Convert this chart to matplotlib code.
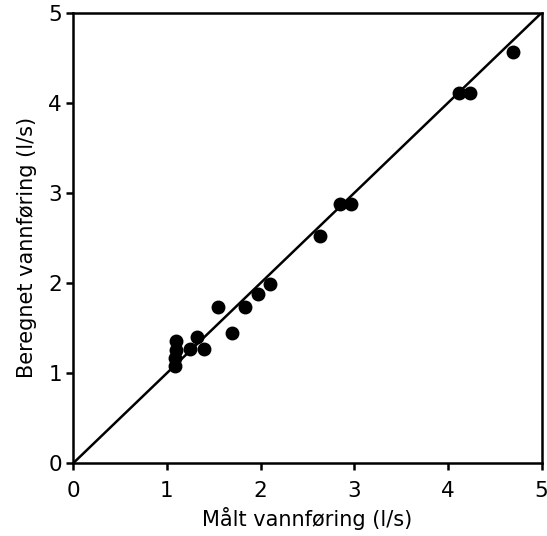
import numpy as np
import matplotlib.pyplot as plt

# maalt og beregnet vannforing (l/s)
maalt = [1.09, 1.09, 1.10, 1.10, 1.25, 1.32, 1.40, 1.55, 1.70, 1.83, 1.97, 2.10,
         2.63, 2.85, 2.97, 4.12, 4.24, 4.70]
beregnet = [1.08, 1.17, 1.26, 1.36, 1.27, 1.40, 1.27, 1.73, 1.45, 1.73, 1.88, 1.99,
            2.52, 2.88, 2.88, 4.11, 4.11, 4.56]
ticks = [0, 1, 2, 3, 4, 5]

plt.rcParams['font.family'] = ['DejaVu Sans']

fig = plt.figure(figsize=(5.47, 5.36), dpi=100)
ax = fig.add_axes([0.134, 0.136, 0.856, 0.840])

ax.plot([0, 5], [0, 5], color='black', linewidth=1.8)
ax.plot(maalt, beregnet, 'o', color='black', markersize=9)

ax.set_xlim(0, 5)
ax.set_ylim(0, 5)
ax.set_xticks(ticks)
ax.set_yticks(ticks)
ax.tick_params(direction='out', length=5, width=1.8, labelsize=15.5)
ax.tick_params(axis='x', pad=8)
ax.tick_params(axis='y', pad=3)
for s in ax.spines.values():
    s.set_linewidth(1.8)

ax.set_xlabel('Målt vannføring (l/s)', fontsize=15, labelpad=4)
ax.set_ylabel('Beregnet vannføring (l/s)', fontsize=15, labelpad=8)
ax.yaxis.label.set_y(0.48)

fig.savefig('out.png', dpi=100)
